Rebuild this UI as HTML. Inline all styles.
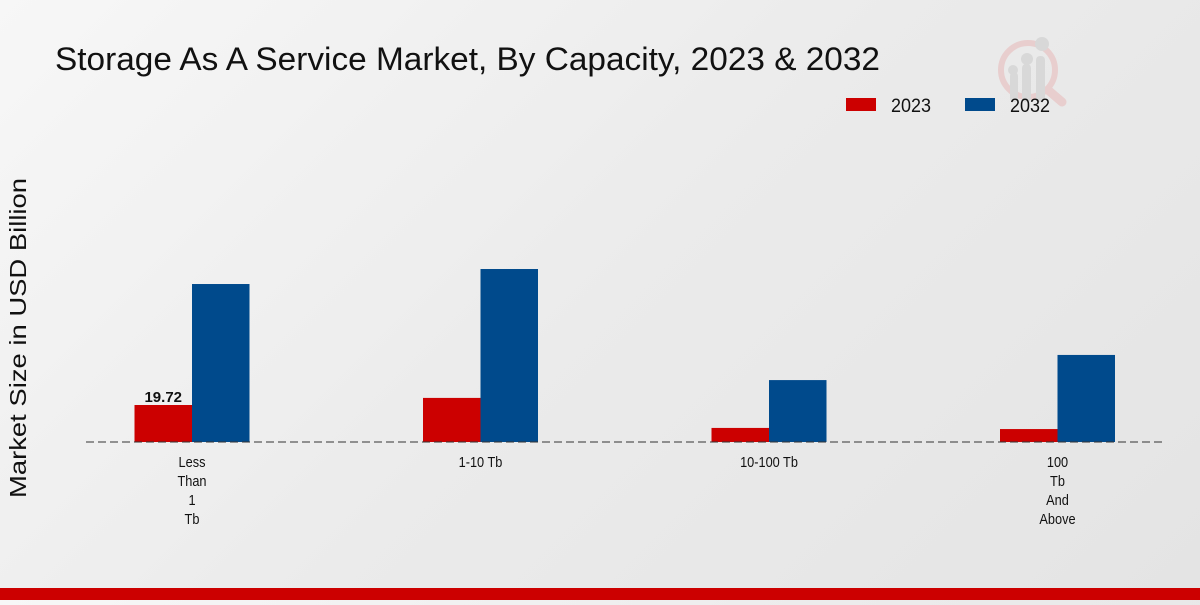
<!DOCTYPE html>
<html><head><meta charset="utf-8"><style>
html,body{margin:0;padding:0}
body{width:1200px;height:600px;overflow:hidden;background:linear-gradient(135deg,#f7f7f7 0%,#ebebeb 50%,#e4e4e4 100%);font-family:"Liberation Sans",sans-serif}
</style></head><body>
<svg width="1200" height="600" xmlns="http://www.w3.org/2000/svg">
<text x="55" y="70" font-size="32" fill="#111" textLength="825" lengthAdjust="spacingAndGlyphs">Storage As A Service Market, By Capacity, 2023 &amp; 2032</text>
<g opacity="0.5">
<circle cx="1028" cy="70" r="27" fill="none" stroke="#e8b4b4" stroke-width="6"/>
<line x1="1048" y1="90" x2="1062" y2="102" stroke="#e8b4b4" stroke-width="9" stroke-linecap="round"/>
<rect x="1010" y="72" width="8" height="30" rx="4" fill="#c8c8c8"/><rect x="1022" y="64" width="9" height="38" rx="4" fill="#c8c8c8"/><rect x="1036" y="56" width="9" height="46" rx="4" fill="#c8c8c8"/>
<circle cx="1013" cy="70" r="5" fill="#c8c8c8"/><circle cx="1027" cy="59" r="6" fill="#c8c8c8"/><circle cx="1042" cy="44" r="7" fill="#c8c8c8"/>
</g>
<g>
<rect x="846" y="98" width="30" height="13" fill="#cc0000"/>
<text x="891" y="112" font-size="19" fill="#111" textLength="40" lengthAdjust="spacingAndGlyphs">2023</text>
<rect x="965" y="98" width="30" height="13" fill="#004a8c"/>
<text x="1010" y="112" font-size="19" fill="#111" textLength="40" lengthAdjust="spacingAndGlyphs">2032</text>
</g>
<text transform="translate(26,338) rotate(-90)" text-anchor="middle" font-size="23" fill="#111" textLength="320" lengthAdjust="spacingAndGlyphs">Market Size in USD Billion</text>
<g id="plot"></g>
<line x1="86" y1="442" x2="1164" y2="442" stroke="#333" stroke-width="1" stroke-dasharray="8,4"/>
<rect x="0" y="588" width="1200" height="12" fill="#cc0000"/>
</svg>
<script>
const categories=[["Less","Than","1","Tb"],["1-10 Tb"],["10-100 Tb"],["100","Tb","And","Above"]];
const values2023=[19.72,23.5,7.5,6.9];
const values2032=[84.2,92.2,33,46.4];
const labels2023=["19.72","","",""];
const ns="http://www.w3.org/2000/svg";
const g=document.getElementById("plot");
const base=442,scale=37/19.72;
const y=v=>base-v*scale;
const xc=i=>192+i*288.5;
const bw=57.5;
function mk(t,a){const e=document.createElementNS(ns,t);for(const k in a)e.setAttribute(k,a[k]);g.appendChild(e);return e;}
categories.forEach((c,i)=>{
  const r1=mk("rect",{x:xc(i)-bw,y:y(values2023[i]),width:bw,height:base-y(values2023[i]),fill:"#cc0000"});
  
  
  const r2=mk("rect",{x:xc(i),y:y(values2032[i]),width:bw,height:base-y(values2032[i]),fill:"#004a8c"});
  
  
  if(labels2023[i]){const t=mk("text",{x:xc(i)-bw/2,y:y(values2023[i])-3,"text-anchor":"middle","font-size":"15","font-weight":"bold",fill:"#111"});t.textContent=labels2023[i];
  
  }
  c.forEach((line,j)=>{const t=mk("text",{x:xc(i),y:467+j*19,"text-anchor":"middle","font-size":"15",fill:"#111",transform:"translate("+xc(i)+",0) scale(0.85,1) translate("+(-xc(i))+",0)"});t.textContent=line;
  
  });
});
</script>
</body></html>
